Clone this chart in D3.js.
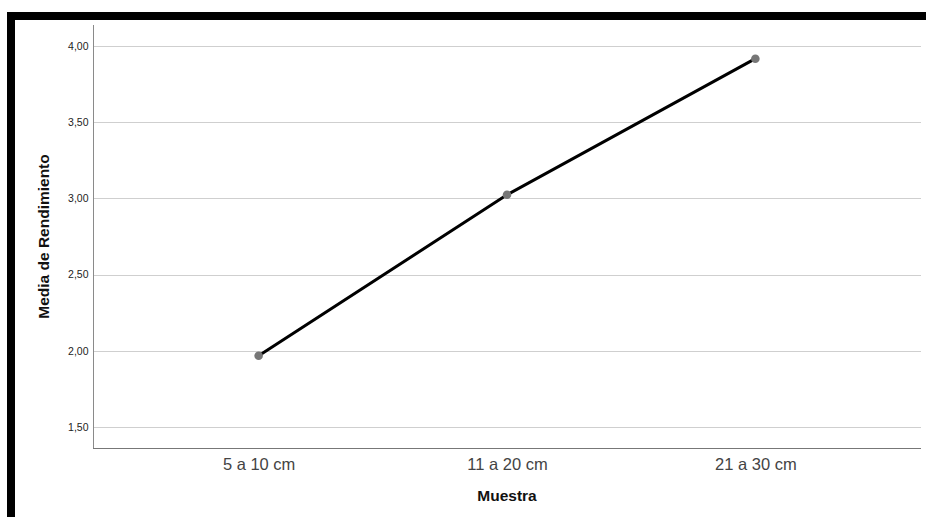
<!DOCTYPE html>
<html>
<head>
<meta charset="utf-8">
<script src="https://cdn.jsdelivr.net/npm/d3@7"></script>
<style>
  body { margin: 0; background: #fff; }
  svg { display: block; font-family: "Liberation Sans", Arial, sans-serif; }
</style>
</head>
<body>
<div id="chart"></div>
<script>
// === Data ===
const categories = ["5 a 10 cm", "11 a 20 cm", "21 a 30 cm"];
const means = [1.967, 3.024, 3.917];
const yTicks = [1.5, 2.0, 2.5, 3.0, 3.5, 4.0];

const width = 926;
const height = 517;
const plot = { left: 93, right: 921, top: 25, bottom: 448 };

const svg = d3.select("#chart")
  .append("svg")
  .attr("width", width)
  .attr("height", height);

// black frame (top + left)
svg.append("rect").attr("x", 7).attr("y", 12).attr("width", width - 7).attr("height", 8).attr("fill", "#000");
svg.append("rect").attr("x", 7).attr("y", 12).attr("width", 8).attr("height", height - 12).attr("fill", "#000");

// === Scales ===
const x = d3.scalePoint()
  .domain(categories)
  .range([plot.left, plot.right])
  .padding(0.667);

const y = d3.scaleLinear()
  .domain([1.362, 4.138])
  .range([plot.bottom, plot.top]);

const fmt = (d) => d3.format(".2f")(d).replace(".", ",");

// === Gridlines ===
svg.append("g")
  .selectAll("line")
  .data(yTicks)
  .enter()
  .append("line")
  .attr("x1", plot.left)
  .attr("x2", plot.right)
  .attr("y1", (d) => Math.round(y(d)) + 0.5)
  .attr("y2", (d) => Math.round(y(d)) + 0.5)
  .attr("stroke", "#cfcfcf")
  .attr("stroke-width", 1);

// === Y axis ===
const yAxis = svg.append("g")
  .attr("transform", `translate(${plot.left + 0.5},0)`)
  .call(d3.axisLeft(y).tickValues(yTicks).tickFormat(fmt).tickSize(0).tickPadding(5));
yAxis.select(".domain").attr("stroke", "#8a8a8a").attr("d", `M0,${plot.top}V${plot.bottom}`);
yAxis.selectAll("text").attr("font-size", "10.5px").attr("fill", "#222").attr("font-family", "Liberation Sans, Arial, sans-serif");

// === X axis ===
const xAxis = svg.append("g")
  .attr("transform", `translate(0,${plot.bottom + 0.5})`)
  .call(d3.axisBottom(x).tickSize(0).tickPadding(10));
xAxis.select(".domain").attr("stroke", "#777").attr("d", `M${plot.left},0H${plot.right}`);
xAxis.selectAll("text").attr("font-size", "16.5px").attr("fill", "#444").attr("font-family", "Liberation Sans, Arial, sans-serif");

// === Axis titles ===
svg.append("text")
  .attr("x", (plot.left + plot.right) / 2)
  .attr("y", 501)
  .attr("text-anchor", "middle")
  .attr("font-size", "15.5px")
  .attr("font-weight", "bold")
  .attr("fill", "#111")
  .text("Muestra");

svg.append("text")
  .attr("transform", `translate(49,${(plot.top + plot.bottom) / 2}) rotate(-90)`)
  .attr("text-anchor", "middle")
  .attr("font-size", "15.5px")
  .attr("font-weight", "bold")
  .attr("fill", "#111")
  .text("Media de Rendimiento");

// === Line + points ===
const pts = categories.map((c, i) => ({ c, v: means[i] }));

svg.append("path")
  .datum(pts)
  .attr("fill", "none")
  .attr("stroke", "#000")
  .attr("stroke-width", 3)
  .attr("d", d3.line().x((d) => x(d.c)).y((d) => y(d.v)));

svg.append("g")
  .selectAll("circle")
  .data(pts)
  .enter()
  .append("circle")
  .attr("cx", (d) => x(d.c))
  .attr("cy", (d) => y(d.v))
  .attr("r", 4.3)
  .attr("fill", "#777");
</script>
</body>
</html>
